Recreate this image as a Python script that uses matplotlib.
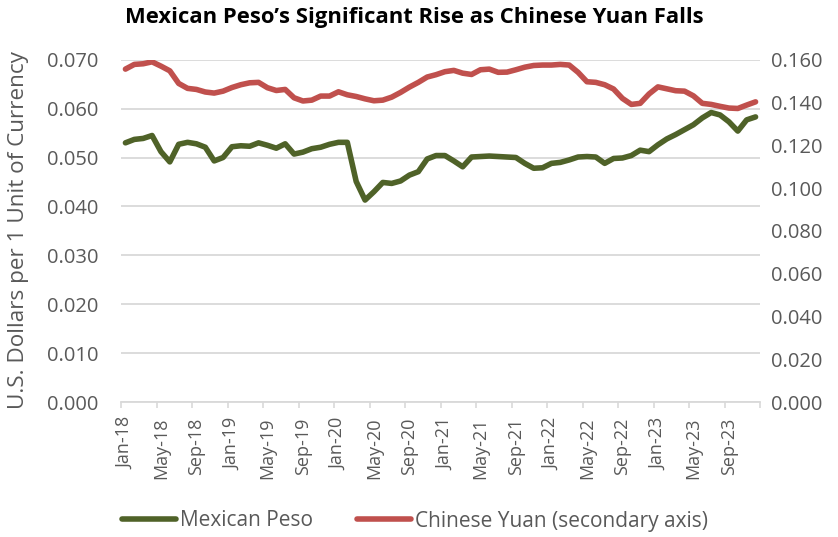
import matplotlib
matplotlib.use("Agg")
import matplotlib.pyplot as plt
import pandas as pd
from matplotlib.ticker import FormatStrFormatter, FixedLocator

months = pd.date_range("2018-01-01", "2023-12-01", freq="MS").strftime("%b-%y").tolist()

peso = [0.0530, 0.0537, 0.0539, 0.0545, 0.0512, 0.0491, 0.0527, 0.0531, 0.0528, 0.0521, 0.0493, 0.0500,
        0.0522, 0.0524, 0.0523, 0.0530, 0.0525, 0.0519, 0.0528, 0.0507, 0.0511, 0.0518, 0.0521, 0.0527,
        0.0531, 0.0531, 0.0451, 0.0413, 0.0430, 0.0449, 0.0447, 0.0452, 0.0464, 0.0471, 0.0497, 0.0504,
        0.0504, 0.0493, 0.0481, 0.0501, 0.0502, 0.0503, 0.0502, 0.0501, 0.0500, 0.0488, 0.0478, 0.0479,
        0.0488, 0.0490, 0.0495, 0.0501, 0.0502, 0.0501, 0.0488, 0.0498, 0.0499, 0.0504, 0.0515, 0.0512,
        0.0526, 0.0538, 0.0547, 0.0557, 0.0567, 0.0581, 0.0592, 0.0587, 0.0573, 0.0554, 0.0577, 0.0583]

yuan = [0.1556, 0.1578, 0.1581, 0.1590, 0.1570, 0.1548, 0.1489, 0.1466, 0.1461, 0.1449, 0.1444, 0.1453,
        0.1470, 0.1483, 0.1492, 0.1494, 0.1469, 0.1456, 0.1461, 0.1422, 0.1407, 0.1411, 0.1430, 0.1430,
        0.1450, 0.1436, 0.1428, 0.1417, 0.1408, 0.1411, 0.1425, 0.1447, 0.1472, 0.1494, 0.1519, 0.1530,
        0.1544, 0.1550, 0.1537, 0.1531, 0.1553, 0.1556, 0.1541, 0.1542, 0.1553, 0.1565, 0.1573, 0.1575,
        0.1575, 0.1578, 0.1575, 0.1541, 0.1497, 0.1494, 0.1483, 0.1463, 0.1419, 0.1391, 0.1396, 0.1440,
        0.1473, 0.1464, 0.1455, 0.1453, 0.1431, 0.1396, 0.1391, 0.1382, 0.1374, 0.1372, 0.1388, 0.1403]

left_ticks = [0.00, 0.01, 0.02, 0.03, 0.04, 0.05, 0.06, 0.07]
right_ticks = [0.00, 0.02, 0.04, 0.06, 0.08, 0.10, 0.12, 0.14, 0.16]

title = "Mexican Peso\u2019s Significant Rise as Chinese Yuan Falls"
ylabel = "U.S. Dollars per 1 Unit of Currency"
label_peso = "Mexican Peso"
label_yuan = "Chinese Yuan (secondary axis)"

GREEN = "#4F6228"
RED = "#C0504D"
GRID = "#D9D9D9"
TXT = "#595959"
FONT = "Open Sans"

plt.rcParams["font.family"] = [FONT, "DejaVu Sans"]

fig = plt.figure(figsize=(8.38, 5.37), dpi=100)
ax = fig.add_axes([121 / 838, 1 - 402 / 537, (760 - 121) / 838, (402 - 59.7) / 537])
ax2 = ax.twinx()

x = list(range(len(months)))
l1, = ax.plot(x, peso, color=GREEN, lw=4.0, solid_joinstyle="round", solid_capstyle="round", zorder=3)
l2, = ax2.plot(x, yuan, color=RED, lw=4.0, solid_joinstyle="round", solid_capstyle="round", zorder=3)

ax.set_xlim(-0.5, len(months) - 0.5)
ax.set_ylim(0, 0.07)
ax2.set_ylim(0, 0.16)
ax.set_yticks(left_ticks)
ax2.set_yticks(right_ticks)
ax.yaxis.set_major_formatter(FormatStrFormatter("%.3f"))
ax2.yaxis.set_major_formatter(FormatStrFormatter("%.3f"))

ax.set_xticks(x[::4])
ax.set_xticklabels(months[::4], rotation=90, va="top", ha="center")
ax.xaxis.set_minor_locator(FixedLocator([i - 0.5 for i in range(0, len(months) + 1, 4)]))

ax.grid(axis="y", color=GRID, lw=1.3, zorder=0)
ax.set_axisbelow(True)
for a in (ax, ax2):
    for s in a.spines.values():
        s.set_visible(False)
ax.spines["bottom"].set_visible(True)
ax.spines["bottom"].set_color(GRID)
ax.spines["bottom"].set_linewidth(1.3)

ax.tick_params(axis="y", length=0, pad=16, labelsize=14.5, labelcolor=TXT)
ax2.tick_params(axis="y", length=0, pad=8, labelsize=14.5, labelcolor=TXT)
ax.tick_params(axis="x", which="major", length=0, pad=11, labelsize=13, labelcolor=TXT)
ax.tick_params(axis="x", which="minor", length=4.5, width=1.2, color=GRID, direction="out")

fig.text(19 / 838, 1 - 230 / 537, ylabel, rotation=90, ha="center", va="center",
         fontsize=16.2, color=TXT)
fig.text(414 / 838, 1 - 17 / 537, title, ha="center", va="center",
         fontsize=15.8, fontweight="bold", color="black")

fig.legend([l1, l2], [label_peso, label_yuan], loc="center left",
           bbox_to_anchor=(122 / 838, 1 - 521 / 537), ncol=2, frameon=False,
           fontsize=15, labelcolor=TXT, handlelength=2.6, handletextpad=0.2,
           columnspacing=2.1, borderpad=0, borderaxespad=0)

fig.savefig("out.png", dpi=100)
